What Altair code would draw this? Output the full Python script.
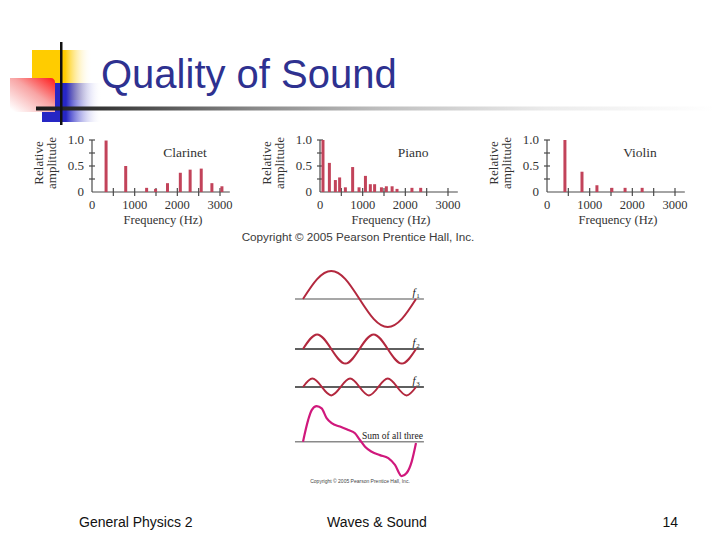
import altair as alt
import pandas as pd

# ---------------- values ----------------
clarinet_freq = [330, 790, 1280, 1490, 1770, 2070, 2300, 2560, 2810, 3045]
clarinet_amp = [0.99, 0.50, 0.08, 0.06, 0.17, 0.37, 0.43, 0.45, 0.17, 0.11]

piano_freq = [70, 220, 360, 460, 595, 765, 915, 1065, 1180, 1280, 1440, 1555, 1690, 1805, 2155, 2360]
piano_amp = [1.0, 0.56, 0.23, 0.28, 0.09, 0.48, 0.09, 0.31, 0.15, 0.15, 0.09, 0.11, 0.11, 0.06, 0.08, 0.08]

violin_freq = [420, 820, 1170, 1520, 1830, 2230]
violin_amp = [1.0, 0.39, 0.13, 0.08, 0.08, 0.08]

x_tick_values = [500, 1000, 1500, 2000, 2500, 3000]
x_label_values = [0, 1000, 2000, 3000]
x_label_text = ["0", "1000", "2000", "3000"]
y_tick_values = [0.25, 0.5, 0.75, 1.0]
y_label_values = [0, 0.5, 1.0]
y_label_text = ["0", "0.5", "1.0"]

f1_t = [0, 0.125, 0.25, 0.375, 0.5, 0.625, 0.75, 0.875, 1.0]
f1_v = [0, 0.71, 1.0, 0.71, 0, -0.71, -1.0, -0.71, 0]
f2_t = [0, 0.125, 0.25, 0.375, 0.5, 0.625, 0.75, 0.875, 1.0]
f2_v = [0, 0.52, 0, -0.52, 0, 0.52, 0, -0.52, 0]
f3_t = [0, 0.083, 0.167, 0.25, 0.333, 0.417, 0.5, 0.583, 0.667, 0.75, 0.833, 0.917, 1.0]
f3_v = [0, 0.30, 0, -0.30, 0, 0.30, 0, -0.30, 0, 0.30, 0, -0.30, 0]
sum_t = [0, 0.046, 0.077, 0.121, 0.165, 0.209, 0.254, 0.327, 0.401, 0.460, 0.504,
         0.549, 0.608, 0.681, 0.755, 0.814, 0.873, 0.917, 0.962, 1.0]
sum_v = [0, 0.78, 1.13, 1.27, 1.19, 0.84, 0.66, 0.54, 0.42, 0.30, 0.06,
         -0.18, -0.36, -0.48, -0.59, -0.83, -1.23, -1.12, -0.71, -0.05]
wave_sub = ["1", "2", "3"]

# ---------------- layout / style ----------------
M = 8
W, H = 704, 524
SERIF = "Liberation Serif"
SANS = "Liberation Sans"
BAR = "#C2435A"
AX = "#4a4a4a"
FIG_TXT = "#333333"
WAVE = "#B3283E"
SUMC = "#D0187C"

dummy = pd.DataFrame({"k": [0]})


def P(v):
    return v - M


def text(s, x, y, size, font=SERIF, color=FIG_TXT, align="center",
         baseline="middle", angle=None, style="normal", weight="normal"):
    kw = dict(text=s, fontSize=size, font=font, color=color, align=align,
              baseline=baseline, fontStyle=style, fontWeight=weight)
    if angle is not None:
        kw["angle"] = angle
    return alt.Chart(dummy).mark_text(**kw).encode(x=alt.value(P(x)), y=alt.value(P(y)))


def rect(x1, x2, y1, y2, color, **kw):
    return alt.Chart(dummy).mark_rect(color=color, **kw).encode(
        x=alt.value(P(x1)), x2=alt.value(P(x2)), y=alt.value(P(y1)), y2=alt.value(P(y2)))


def grad(stops, x1=0, y1=0, x2=1, y2=0):
    return {"gradient": "linear", "x1": x1, "y1": y1, "x2": x2, "y2": y2,
            "stops": [{"offset": o, "color": c} for o, c in stops]}


layers = []

# ---------------- slide decoration ----------------
layers.append(rect(32, 92, 50, 100, grad([(0, "#FFCC00"), (0.55, "#FFCC00"), (1, "rgba(255,255,255,0)")])))
layers.append(rect(42, 102, 83, 122, grad([(0, "#2626C4"), (0.4, "#2626C4"), (1, "rgba(255,255,255,0)")])))
layers.append(rect(10, 55, 78, 112, grad([(0, "#FF2020"), (0.45, "#F8A4A4"), (1, "#FFFFFF")], x1=1, y1=0.05, x2=0.1, y2=1),
                   cornerRadiusTopRight=4))
layers.append(rect(36, 716, 106.5, 110.5, grad([(0, "#1a1a1a"), (0.09, "#333333"), (0.32, "#888888"),
                                                 (0.5, "#bdbdbd"), (0.75, "#ebebeb"), (1, "#ffffff")])))
layers.append(rect(60, 62.5, 42, 125, "#111111"))

layers.append(text("Quality of Sound", 101, 88, 40, font=SANS, color="#2E3190",
                   align="left", baseline="alphabetic"))


# ---------------- spectrum panels ----------------
def panel(freqs, amps, x0, name):
    xs = alt.Scale(domain=[0, 3000], range=[P(x0), P(x0 + 128)], nice=False, zero=False)
    ys = alt.Scale(domain=[0, 1], range=[P(192), P(140)], nice=False, zero=False)
    out = []
    out.append(alt.Chart(dummy).mark_rule(color=AX, strokeWidth=1.2).encode(
        x=alt.XDatum(0, scale=xs, axis=None), x2=alt.X2Datum(3230),
        y=alt.YDatum(0, scale=ys, axis=None)))
    out.append(alt.Chart(dummy).mark_rule(color=AX, strokeWidth=1.2).encode(
        x=alt.XDatum(0, scale=xs, axis=None),
        y=alt.YDatum(0, scale=ys, axis=None), y2=alt.Y2Datum(1)))
    out.append(alt.Chart(pd.DataFrame({"v": x_tick_values})).mark_rule(
        color=AX, strokeWidth=1.2, yOffset=-4, y2Offset=4).encode(
        x=alt.X("v:Q", scale=xs, axis=None),
        y=alt.YDatum(0, scale=ys, axis=None), y2=alt.Y2Datum(0)))
    out.append(alt.Chart(pd.DataFrame({"v": y_tick_values})).mark_rule(
        color=AX, strokeWidth=1.2, xOffset=-3, x2Offset=3).encode(
        y=alt.Y("v:Q", scale=ys, axis=None),
        x=alt.XDatum(0, scale=xs, axis=None), x2=alt.X2Datum(0)))
    out.append(alt.Chart(pd.DataFrame({"f": freqs, "a": amps})).mark_rule(
        color=BAR, strokeWidth=3, strokeCap="butt").encode(
        x=alt.X("f:Q", scale=xs, axis=None),
        y=alt.Y("a:Q", scale=ys, axis=None), y2=alt.Y2Datum(0)))
    out.append(alt.Chart(pd.DataFrame({"v": x_label_values, "t": x_label_text})).mark_text(
        font=SERIF, fontSize=12.5, color=FIG_TXT, dy=13, baseline="middle").encode(
        x=alt.X("v:Q", scale=xs, axis=None),
        y=alt.YDatum(0, scale=ys, axis=None), text="t:N"))
    out.append(alt.Chart(pd.DataFrame({"v": y_label_values, "t": y_label_text})).mark_text(
        font=SERIF, fontSize=13, color=FIG_TXT, dx=-8, align="right", baseline="middle").encode(
        y=alt.Y("v:Q", scale=ys, axis=None),
        x=alt.XDatum(0, scale=xs, axis=None), text="t:N"))
    out.append(text("Relative", x0 - 53, 163, 13, angle=270))
    out.append(text("amplitude", x0 - 40, 163, 13, angle=270))
    out.append(text("Frequency (Hz)", x0 + 71, 219.5, 12.5))
    out.append(text(name, x0 + 93, 153, 13.5))
    return out


layers += panel(clarinet_freq, clarinet_amp, 92, "Clarinet")
layers += panel(piano_freq, piano_amp, 320, "Piano")
layers += panel(violin_freq, violin_amp, 547, "Violin")

layers.append(text("Copyright \u00a9 2005 Pearson Prentice Hall, Inc.", 358, 237, 11.7,
                   font=SANS, color="#3a3a3a"))


# ---------------- waves ----------------
def wave(ts, vs, y_base, color, interp, base_color, width=2.0):
    xs = alt.Scale(domain=[0, 1], range=[P(303), P(416)], nice=False, zero=False)
    ys = alt.Scale(domain=[-1, 1], range=[P(y_base + 28), P(y_base - 28)], nice=False, zero=False)
    base = alt.Chart(dummy).mark_rule(color=base_color, strokeWidth=1.6).encode(
        x=alt.XDatum(-0.071, scale=xs, axis=None), x2=alt.X2Datum(1.07),
        y=alt.YDatum(0, scale=ys, axis=None))
    line = alt.Chart(pd.DataFrame({"t": ts, "v": vs})).mark_line(
        color=color, strokeWidth=width, interpolate=interp).encode(
        x=alt.X("t:Q", scale=xs, axis=None), y=alt.Y("v:Q", scale=ys, axis=None))
    return [base, line]


layers += wave(f1_t, f1_v, 299, WAVE, "natural", "#8a8a8a")
layers += wave(f2_t, f2_v, 349, WAVE, "natural", "#2a2a2a")
layers += wave(f3_t, f3_v, 387, WAVE, "natural", "#2a2a2a")
layers += wave(sum_t, sum_v, 441.7, SUMC, "monotone", "#8a8a8a", width=2.2)

for sub, yb in zip(wave_sub, [299, 349, 387]):
    layers.append(text("f", 414, yb - 6, 11, style="italic", color="#222"))
    layers.append(text(sub, 418, yb - 3, 7, color="#222"))

layers.append(text("Sum of all three", 362, 436, 9.5, align="left", color="#222"))
layers.append(text("Copyright \u00a9 2005 Pearson Prentice Hall, Inc.", 360, 481, 5, font=SANS, color="#444"))

# ---------------- footer ----------------
layers.append(text("General Physics 2", 79, 527, 14, font=SANS, color="#111", align="left", baseline="alphabetic"))
layers.append(text("Waves & Sound", 327, 527, 14, font=SANS, color="#111", align="left", baseline="alphabetic"))
layers.append(text("14", 678, 527, 14, font=SANS, color="#111", align="right", baseline="alphabetic"))

chart = (
    alt.layer(*layers, data=dummy)
    .resolve_scale(x="independent", y="independent")
    .properties(width=W, height=H, autosize=alt.AutoSizeParams(type="none"), padding=0,
                background="white")
    .configure_view(stroke=None)
)

chart.save("out.html", embed_options={"renderer": "svg", "actions": False})
